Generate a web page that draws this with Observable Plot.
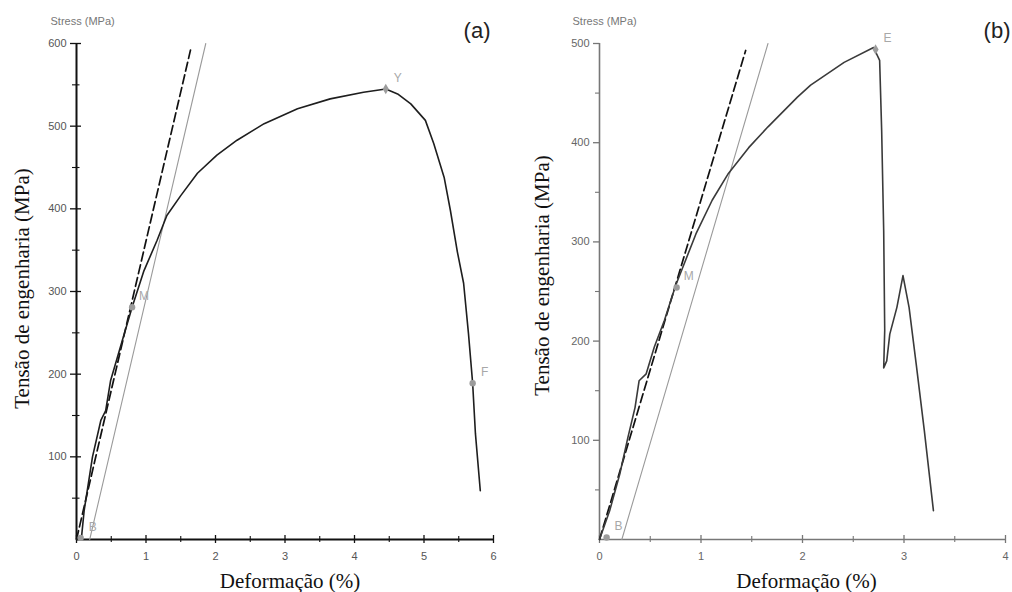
<!DOCTYPE html>
<html>
<head>
<meta charset="utf-8">
<script src="https://cdn.jsdelivr.net/npm/d3@7"></script>
<script src="https://cdn.jsdelivr.net/npm/@observablehq/plot@0.6"></script>
<style>
  html, body { margin: 0; padding: 0; background: #fff; }
  #wrap { display: flex; width: 1012px; height: 592px; overflow: hidden; }
  #wrap svg { flex: none; }
</style>
</head>
<body>
<div id="wrap"></div>
<script>
// ---------- Panel (a) data ----------
const strainA = [0, 0.07, 0.11, 0.23, 0.35, 0.42, 0.49, 0.66, 0.80, 0.97, 1.16, 1.30, 1.50, 1.74, 2.02, 2.31, 2.70, 3.18, 3.65, 4.13, 4.45, 4.62, 4.81, 5.02, 5.14, 5.29, 5.38, 5.48, 5.57, 5.64, 5.70, 5.74, 5.81];
const stressA = [0, 1, 35, 100, 144, 156, 192, 241, 281, 325, 362, 392, 416, 443, 465, 483, 503, 521, 533, 541, 545, 539, 527, 507, 479, 438, 398, 348, 310, 249, 189, 128, 59];
const dashStrainA = [0, 1.64];
const dashStressA = [0, 592];
const offsetStrainA = [0.19, 1.86];
const offsetStressA = [0, 600];
const markNamesA = ["B", "M", "Y", "F"];
const markStrainA = [0.06, 0.80, 4.45, 5.70];
const markStressA = [2, 281, 545, 189];
const yTicksA = [100, 200, 300, 400, 500, 600];
const yMinorA = [50, 150, 250, 350, 450, 550];
const xTicksA = [0, 1, 2, 3, 4, 5, 6];
const xMinorA = [0.5, 1.5, 2.5, 3.5, 4.5, 5.5];

// ---------- Panel (b) data ----------
const strainB = [0, 0.10, 0.20, 0.28, 0.35, 0.39, 0.46, 0.54, 0.64, 0.75, 0.95, 1.11, 1.27, 1.47, 1.66, 1.95, 2.08, 2.41, 2.70, 2.76, 2.78, 2.80, 2.81, 2.80, 2.83, 2.86, 2.93, 2.99, 3.05, 3.12, 3.20, 3.29];
const stressB = [0, 29, 66, 103, 133, 160, 167, 194, 221, 256, 308, 342, 369, 395, 416, 446, 458, 481, 496, 483, 412, 311, 211, 173, 180, 207, 234, 266, 234, 177, 110, 29];
const dashStrainB = [0, 1.44];
const dashStressB = [0, 493];
const offsetStrainB = [0.22, 1.66];
const offsetStressB = [0, 500];
const markNamesB = ["B", "M", "E"];
const markStrainB = [0.07, 0.76, 2.72];
const markStressB = [2, 254, 494];
const yTicksB = [100, 200, 300, 400, 500];
const yMinorB = [50, 150, 250, 350, 450];
const xTicksB = [0, 1, 2, 3, 4];
const xMinorB = [0.5, 1.5, 2.5, 3.5];

const topLabel = "Stress (MPa)";
const yLabel = "Tensão de engenharia (MPa)";
const xLabel = "Deformação (%)";

const zip = (xs, ys) => xs.map((x, i) => ({strain: x, stress: ys[i]}));
const zipMarks = (names, xs, ys) => names.map((n, i) => ({name: n, strain: xs[i], stress: ys[i]}));

const serif = "Liberation Serif, Times New Roman, serif";
const sans = "Liberation Sans, Arial, sans-serif";

function panel(cfg) {
  const W = 506, H = 592;
  const frameW = W - cfg.ml - cfg.mr;
  const frameH = H - cfg.mt - cfg.mb;
  const marks = zipMarks(cfg.names, cfg.mx, cfg.my);
  return Plot.plot({
    width: W, height: H,
    marginLeft: cfg.ml, marginRight: cfg.mr, marginTop: cfg.mt, marginBottom: cfg.mb,
    style: {background: "#fff", overflow: "visible"},
    x: {domain: cfg.xDomain, axis: null},
    y: {domain: cfg.yDomain, axis: null},
    marks: [
      // axes lines
      Plot.ruleX([0], {stroke: cfg.axisColor, strokeWidth: cfg.axisWidth}),
      Plot.ruleY([0], {stroke: cfg.axisColor, strokeWidth: cfg.axisWidth}),
      // y ticks
      Plot.tickY(cfg.yTicks, {y: d => d, stroke: cfg.axisColor, strokeWidth: 1.3, insetLeft: -6, insetRight: frameW - cfg.yTickRight}),
      Plot.tickY(cfg.yMinor, {y: d => d, stroke: cfg.axisColor, strokeWidth: 1.1, insetLeft: -4, insetRight: frameW - cfg.yTickRight * 0.7}),
      // x ticks
      Plot.tickX(cfg.xTicks, {x: d => d, stroke: cfg.axisColor, strokeWidth: 1.3, insetBottom: -4, insetTop: frameH - 4}),
      Plot.tickX(cfg.xMinor, {x: d => d, stroke: cfg.axisColor, strokeWidth: 1.1, insetBottom: -3, insetTop: frameH - 3}),
      // tick labels
      Plot.axisY({ticks: cfg.yTicks, tickFormat: d => String(d), tickSize: 0, tickPadding: 10, fill: cfg.tickText, stroke: null, fontSize: 11, fontFamily: sans, label: null}),
      Plot.axisX({ticks: cfg.xTicks, tickFormat: d => String(d), tickSize: 0, tickPadding: 13, fill: cfg.tickText, stroke: null, fontSize: 11, fontFamily: sans, label: null}),
      // offset line (light gray)
      Plot.line(zip(cfg.ox, cfg.oy), {x: "strain", y: "stress", stroke: "#9a9a9a", strokeWidth: 1.1}),
      // dashed tangent line
      Plot.line(zip(cfg.dx, cfg.dy), {x: "strain", y: "stress", stroke: "#111", strokeWidth: 1.7, strokeDasharray: "9,4"}),
      // main curve
      Plot.line(zip(cfg.cx, cfg.cy), {x: "strain", y: "stress", stroke: cfg.curveColor, strokeWidth: 1.6, curve: "linear"}),
      // markers
      Plot.dot(marks, {x: "strain", y: "stress", r: 3.2, fill: "#9c9c9c", symbol: d => (d.name === "Y" || d.name === "E") ? "diamond" : "circle"}),
      Plot.text(marks, {x: "strain", y: "stress", text: "name", fill: "#a8a8a8", fontSize: 12, fontFamily: sans, dx: 12, dy: -11}),
      // labels
      Plot.text([topLabel], {text: d => d, frameAnchor: "top-left", textAnchor: "start", lineAnchor: "middle", dx: cfg.topDx, dy: -22, fontSize: 11, fill: "#777", fontFamily: sans}),
      Plot.text([cfg.tag], {text: d => d, frameAnchor: "top-right", textAnchor: "end", lineAnchor: "middle", dx: cfg.tagDx, dy: -13, fontSize: 22, fill: "#222", fontFamily: sans}),
      Plot.text([yLabel], {text: d => d, frameAnchor: "left", rotate: -90, textAnchor: "middle", lineAnchor: "middle", dx: cfg.ylDx, dy: cfg.ylDy, fontSize: 21, fill: "#111", fontFamily: serif}),
      Plot.text([xLabel], {text: d => d, frameAnchor: "bottom", textAnchor: "middle", lineAnchor: "middle", dx: cfg.xlDx, dy: 42, fontSize: 21, fill: "#111", fontFamily: serif})
    ]
  });
}

const wrap = document.getElementById("wrap");
wrap.append(panel({
  ml: 76, mr: 13, mt: 43, mb: 53,
  xDomain: [0, 6], yDomain: [0, 600],
  cx: strainA, cy: stressA, dx: dashStrainA, dy: dashStressA, ox: offsetStrainA, oy: offsetStressA,
  names: markNamesA, mx: markStrainA, my: markStressA,
  yTicks: yTicksA, yMinor: yMinorA, xTicks: xTicksA, xMinor: xMinorA,
  axisColor: "#111", axisWidth: 2, tickText: "#555", curveColor: "#1e1e1e", yTickRight: 5,
  topDx: -26, tag: "(a)", tagDx: -3, ylDx: -54, ylDy: -3, xlDx: 5
}));
wrap.append(panel({
  ml: 93, mr: 7, mt: 43, mb: 53,
  xDomain: [0, 4], yDomain: [0, 500],
  cx: strainB, cy: stressB, dx: dashStrainB, dy: dashStressB, ox: offsetStrainB, oy: offsetStressB,
  names: markNamesB, mx: markStrainB, my: markStressB,
  yTicks: yTicksB, yMinor: yMinorB, xTicks: xTicksB, xMinor: xMinorB,
  axisColor: "#777", axisWidth: 1.6, tickText: "#666", curveColor: "#3a3a3a", yTickRight: 0.5,
  topDx: -27, tag: "(b)", tagDx: 5, ylDx: -57, ylDy: -16, xlDx: 4
}));
</script>
</body>
</html>
